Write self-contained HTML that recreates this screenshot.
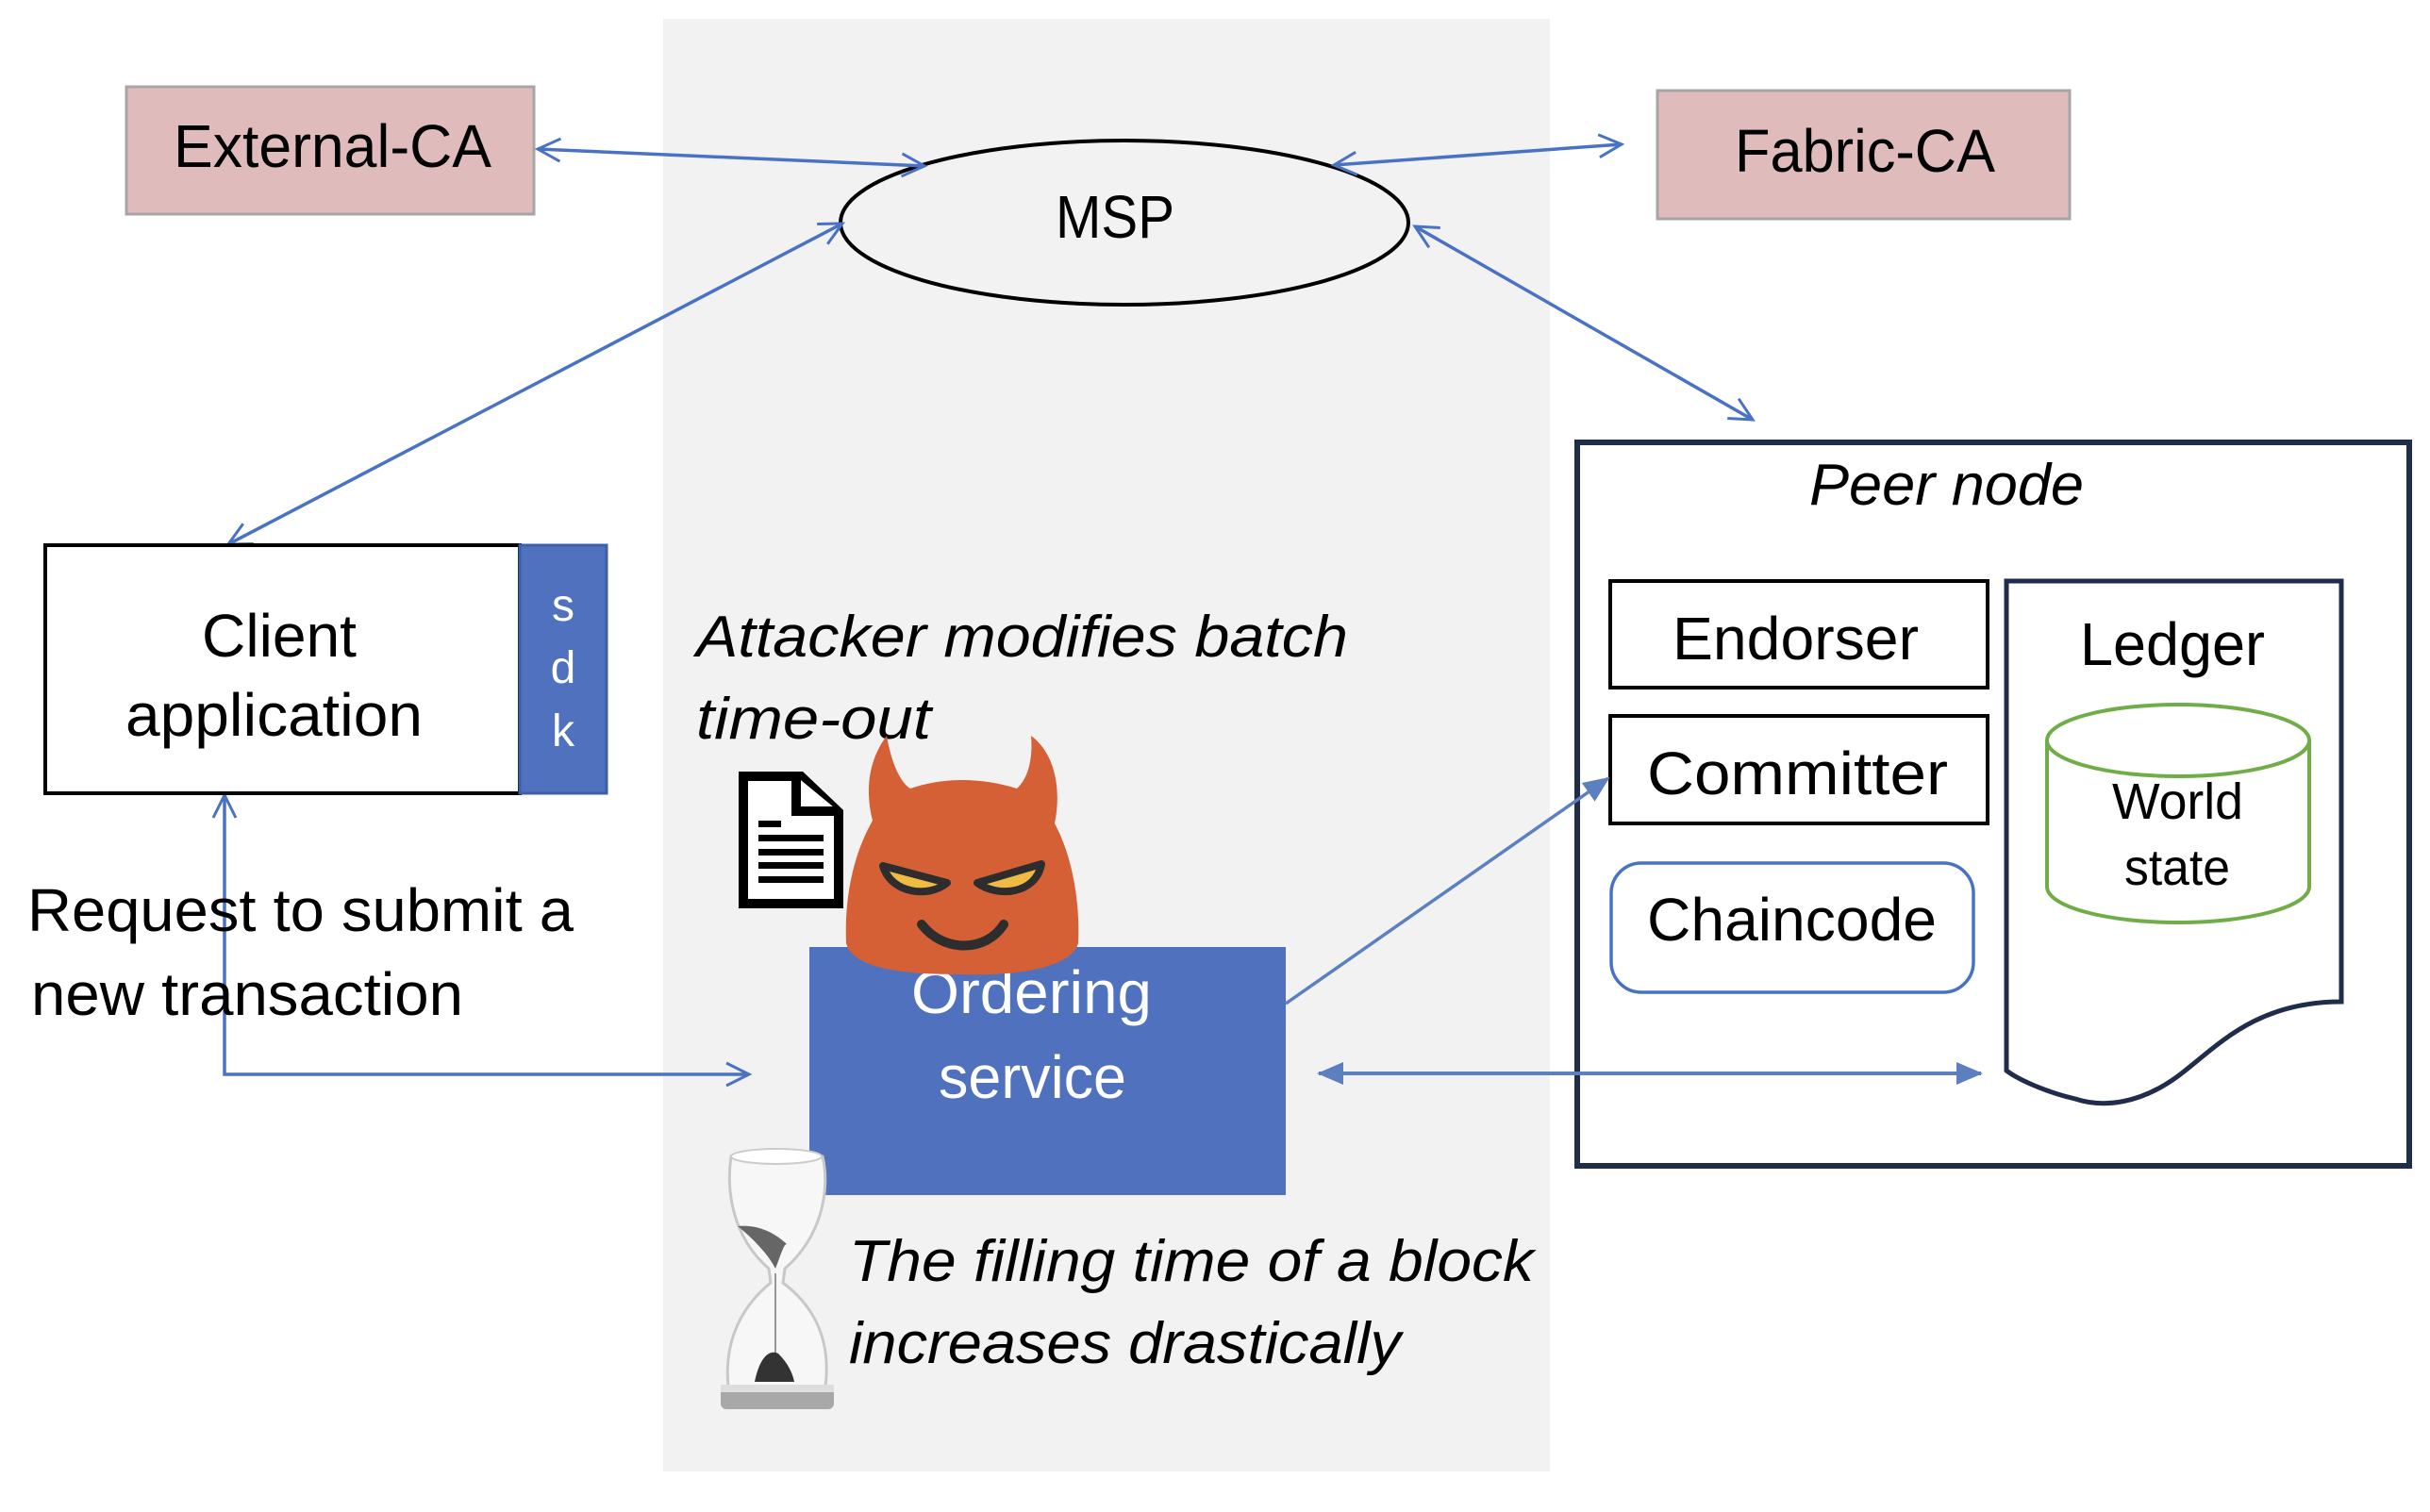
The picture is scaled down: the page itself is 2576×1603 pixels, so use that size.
<!DOCTYPE html>
<html><head><meta charset="utf-8"><style>html,body{margin:0;padding:0;background:#fff}svg{display:block}</style></head>
<body>
<svg width="2576" height="1603" viewBox="0 0 2576 1603" xmlns="http://www.w3.org/2000/svg" font-family="Liberation Sans, sans-serif">
<defs>
<marker id="open" markerWidth="30" markerHeight="30" refX="26" refY="15" orient="auto-start-reverse" markerUnits="userSpaceOnUse">
<path d="M2,3 L26,15 L2,27" fill="none" stroke="#4a72c4" stroke-width="3"/>
</marker>
<marker id="fill" markerWidth="30" markerHeight="30" refX="26" refY="15" orient="auto-start-reverse" markerUnits="userSpaceOnUse">
<path d="M0,3 L28,15 L0,27 Z" fill="#5b7fbf"/>
</marker>
</defs>
<rect x="703" y="20" width="940" height="1540" fill="#f2f2f2"/>

<rect x="134" y="92" width="432" height="135" fill="#dfbcbb" stroke="#a6a6a6" stroke-width="3"/>
<text x="184" y="177" font-size="64" textLength="337" lengthAdjust="spacingAndGlyphs">External-CA</text>
<rect x="1757" y="96" width="437" height="136" fill="#dfbcbb" stroke="#a6a6a6" stroke-width="3"/>
<text x="1839" y="182" font-size="64" textLength="276" lengthAdjust="spacingAndGlyphs">Fabric-CA</text>

<ellipse cx="1192" cy="236" rx="301" ry="87" fill="none" stroke="#000" stroke-width="4"/>
<text x="1119" y="252" font-size="64" textLength="126" lengthAdjust="spacingAndGlyphs">MSP</text>

<g stroke="#4a72c4" stroke-width="3.5" fill="none">
<line x1="570" y1="158" x2="980" y2="176" marker-start="url(#open)" marker-end="url(#open)"/>
<line x1="1414" y1="175" x2="1719" y2="153" marker-start="url(#open)" marker-end="url(#open)"/>
<line x1="893" y1="237" x2="242" y2="577" marker-start="url(#open)" marker-end="url(#open)"/>
<line x1="1500" y1="240" x2="1858" y2="445" marker-start="url(#open)" marker-end="url(#open)"/>
<polyline points="238,843 238,1139 794,1139" marker-start="url(#open)" marker-end="url(#open)"/>
</g>

<rect x="48" y="578" width="503" height="263" fill="#fff" stroke="#000" stroke-width="4"/>
<rect x="551" y="578" width="92" height="263" fill="#4f71be" stroke="#3d5ea8" stroke-width="3"/>
<text x="214" y="696" font-size="64" textLength="164" lengthAdjust="spacingAndGlyphs">Client</text>
<text x="133" y="780" font-size="64" textLength="315" lengthAdjust="spacingAndGlyphs">application</text>
<g fill="#fff" font-size="48" text-anchor="middle"><text x="597" y="658">s</text><text x="597" y="724">d</text><text x="597" y="791">k</text></g>

<text x="29" y="987" font-size="64" textLength="579" lengthAdjust="spacingAndGlyphs">Request to submit a</text>
<text x="33" y="1076" font-size="64" textLength="458" lengthAdjust="spacingAndGlyphs">new transaction</text>

<text x="738" y="696" font-size="62" font-style="italic" textLength="691" lengthAdjust="spacingAndGlyphs">Attacker modifies batch</text>
<text x="738" y="783" font-size="62" font-style="italic" textLength="249" lengthAdjust="spacingAndGlyphs">time-out</text>

<rect x="858" y="1004" width="505" height="263" fill="#4f71be"/>
<text x="966" y="1074" font-size="64" fill="#fff" textLength="255" lengthAdjust="spacingAndGlyphs">Ordering</text>
<text x="995" y="1164" font-size="64" fill="#fff" textLength="199" lengthAdjust="spacingAndGlyphs">service</text>

<!-- document icon -->
<path d="M788,823 L849,823 L889,861 L889,958 L788,958 Z" fill="#fff" stroke="#000" stroke-width="10"/>
<path d="M844,823 L844,860 L889,860" fill="#fff" stroke="#000" stroke-width="10"/>
<g fill="#000"><rect x="804" y="870" width="24" height="7"/><rect x="804" y="885" width="69" height="7"/><rect x="804" y="900" width="69" height="7"/><rect x="804" y="914" width="69" height="7"/><rect x="804" y="929" width="69" height="7"/></g>

<!-- devil -->
<path d="M925,870 C915,830 925,800 940,780 C945,810 955,830 965,836 C1000,824 1040,824 1078,836 C1090,825 1095,805 1093,780 C1120,800 1125,840 1118,873 C1138,910 1145,960 1143,1000 C1135,1030 1060,1035 1020,1033 C970,1033 905,1030 897,1000 C895,950 905,905 925,870 Z" fill="#d66036"/>
<path d="M936,918 C945,948 985,952 1004,936 Z" fill="#f0bb42" stroke="#2d2d2d" stroke-width="8" stroke-linejoin="round"/>
<path d="M1104,916 C1098,948 1058,952 1036,936 Z" fill="#f0bb42" stroke="#2d2d2d" stroke-width="8" stroke-linejoin="round"/>
<path d="M977,980 C1000,1010 1045,1010 1064,980" fill="none" stroke="#2d2d2d" stroke-width="10" stroke-linecap="round"/>

<!-- hourglass -->
<g>
<path d="M775,1226 C770,1260 775,1310 815,1345 L817,1360 C780,1390 768,1430 772,1470 L875,1470 C880,1430 870,1390 830,1360 L832,1345 C872,1310 880,1260 872,1226 Z" fill="#f7f7f7" stroke="#c8c8c8" stroke-width="3"/>
<ellipse cx="823" cy="1226" rx="48" ry="8" fill="#fff" stroke="#ccc" stroke-width="2"/>
<path d="M782,1300 C795,1310 815,1330 822,1345 C828,1330 832,1315 835,1320 C820,1305 800,1298 782,1300 Z" fill="#666"/>
<line x1="822" y1="1350" x2="822" y2="1460" stroke="#777" stroke-width="1.5"/>
<path d="M800,1465 C805,1440 815,1430 825,1435 C835,1445 840,1455 842,1465 Z" fill="#333"/>
<rect x="764" y="1468" width="120" height="26" rx="6" fill="#a8a8a8"/>
<rect x="764" y="1468" width="120" height="8" fill="#ddd"/>
</g>
<text x="900" y="1358" font-size="62" font-style="italic" textLength="726" lengthAdjust="spacingAndGlyphs">The filling time of a block</text>
<text x="900" y="1445" font-size="62" font-style="italic" textLength="585" lengthAdjust="spacingAndGlyphs">increases drastically</text>

<!-- peer node -->
<rect x="1672" y="469" width="882" height="767" fill="#fff" stroke="#1f2d4a" stroke-width="6"/>
<text x="1918" y="535" font-size="62" font-style="italic" textLength="291" lengthAdjust="spacingAndGlyphs">Peer node</text>
<rect x="1707" y="616" width="400" height="113" fill="#fff" stroke="#000" stroke-width="4"/>
<text x="1773" y="699" font-size="64" textLength="261" lengthAdjust="spacingAndGlyphs">Endorser</text>
<rect x="1707" y="759" width="400" height="114" fill="#fff" stroke="#000" stroke-width="4"/>
<text x="1746" y="842" font-size="64" textLength="319" lengthAdjust="spacingAndGlyphs">Committer</text>
<rect x="1708" y="915" width="384" height="137" rx="32" fill="#fff" stroke="#4a72c4" stroke-width="3.5"/>
<text x="1746" y="997" font-size="64" textLength="307" lengthAdjust="spacingAndGlyphs">Chaincode</text>

<path d="M2127,616 L2482,616 L2482,1062 C2390,1062 2350,1110 2310,1140 C2270,1170 2230,1175 2200,1165 C2170,1158 2140,1145 2127,1135 Z" fill="#fff" stroke="#1f2d4a" stroke-width="5"/>
<text x="2205" y="705" font-size="64" textLength="196" lengthAdjust="spacingAndGlyphs">Ledger</text>
<path d="M2170,785 L2170,940 A139,38 0 0 0 2448,940 L2448,785" fill="#fff" stroke="#70ad47" stroke-width="4"/>
<ellipse cx="2309" cy="785" rx="139" ry="38" fill="#fff" stroke="#70ad47" stroke-width="4"/>
<text x="2239" y="868" font-size="54" textLength="139" lengthAdjust="spacingAndGlyphs">World</text>
<text x="2252" y="938" font-size="54" textLength="112" lengthAdjust="spacingAndGlyphs">state</text>

<line x1="1363" y1="1064" x2="1705" y2="825" stroke="#5b7fbf" stroke-width="3.5" marker-end="url(#fill)"/>
<line x1="1398" y1="1138" x2="2100" y2="1138" stroke="#5b7fbf" stroke-width="4" marker-start="url(#fill)" marker-end="url(#fill)"/>
</svg>
</body></html>
